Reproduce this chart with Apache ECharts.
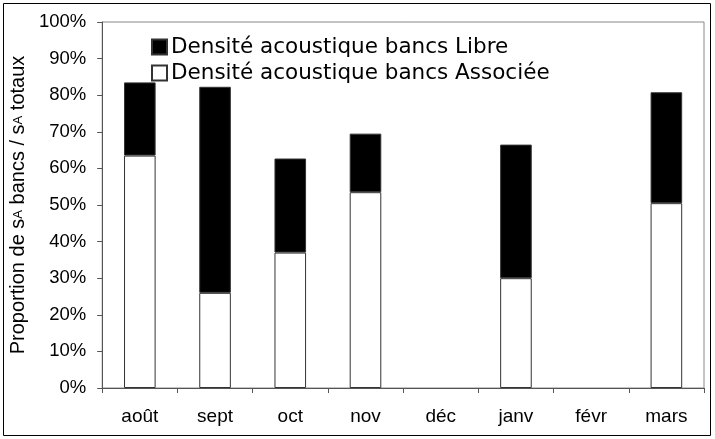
<!DOCTYPE html>
<html>
<head>
<meta charset="utf-8">
<script src="https://cdn.jsdelivr.net/npm/echarts@6/dist/echarts.min.js"></script>
<style>
  html, body { margin: 0; padding: 0; background: #fff; }
  #chart { width: 715px; height: 439px; }
</style>
</head>
<body>
<div id="chart"></div>
<script>
// Months of the survey
const months = ['août', 'sept', 'oct', 'nov', 'déc', 'janv', 'févr', 'mars'];
// Share of acoustic density in associated schools (lower part of each bar), %
const associee = [63.5, 26, 37, 53.5, null, 30, null, 50.5];
// Share of acoustic density in free schools (stacked on top), %
const libre = [20, 56.3, 25.7, 16, null, 36.5, null, 30.3];
// Y-axis tick values
const yTicks = [0, 10, 20, 30, 40, 50, 60, 70, 80, 90, 100];

const font = '"Liberation Sans", Arial, sans-serif';
const legendFont = '"DejaVu Sans", "Liberation Sans", sans-serif';
const chart = echarts.init(document.getElementById('chart'), null, { renderer: 'canvas' });

chart.setOption({
  animation: false,
  backgroundColor: '#fff',
  textStyle: { fontFamily: font, color: '#000' },
  graphic: [{
    type: 'rect',
    shape: { x: 3.5, y: 3.5, width: 707, height: 432 },
    style: { fill: 'none', stroke: '#000', lineWidth: 1 },
    silent: true
  }],
  grid: {
    left: 100, right: 11, top: 22, bottom: 51,
    show: true, borderColor: '#888', borderWidth: 1
  },
  legend: {
    orient: 'vertical',
    left: 146, top: 31,
    itemGap: 4,
    itemWidth: 15, itemHeight: 15,
    icon: 'rect',
    textStyle: { fontFamily: legendFont, fontSize: 21.5, color: '#000', padding: [0, 0, 0, -1] },
    data: ['Densité acoustique bancs Libre', 'Densité acoustique bancs Associée']
  },
  xAxis: {
    type: 'category',
    data: months,
    boundaryGap: true,
    axisLine: { lineStyle: { color: '#555', width: 1 } },
    axisTick: { show: true, alignWithLabel: false, inside: false, length: 5, lineStyle: { color: '#555' } },
    axisLabel: { fontFamily: font, fontSize: 19, color: '#000', margin: 19 },
    splitLine: { show: false }
  },
  yAxis: {
    type: 'value',
    min: yTicks[0], max: yTicks[yTicks.length - 1], interval: 10,
    name: 'Proportion de {n|s}{a|A} bancs / {n|s}{a|A} totaux',
    nameLocation: 'middle',
    nameGap: 60,
    nameRotate: 90,
    nameTextStyle: {
      fontFamily: font, fontSize: 20, color: '#000',
      rich: {
        n: { fontFamily: font, fontSize: 20, color: '#000' },
        a: { fontFamily: font, fontSize: 13, color: '#000' }
      }
    },
    axisLine: { show: true, lineStyle: { color: '#555', width: 1 } },
    axisTick: { show: true, inside: false, length: 5, lineStyle: { color: '#555' } },
    axisLabel: { fontFamily: font, fontSize: 18.5, color: '#000', margin: 16, formatter: '{value}%' },
    splitLine: { show: false }
  },
  series: [
    {
      name: 'Densité acoustique bancs Associée',
      type: 'bar', stack: 'total',
      data: associee,
      barWidth: '42%',
      itemStyle: { color: '#fff', borderColor: '#333', borderWidth: 1 }
    },
    {
      name: 'Densité acoustique bancs Libre',
      type: 'bar', stack: 'total',
      data: libre,
      barWidth: '42%',
      itemStyle: { color: '#000', borderColor: '#333', borderWidth: 1 }
    }
  ]
});
</script>
</body>
</html>
